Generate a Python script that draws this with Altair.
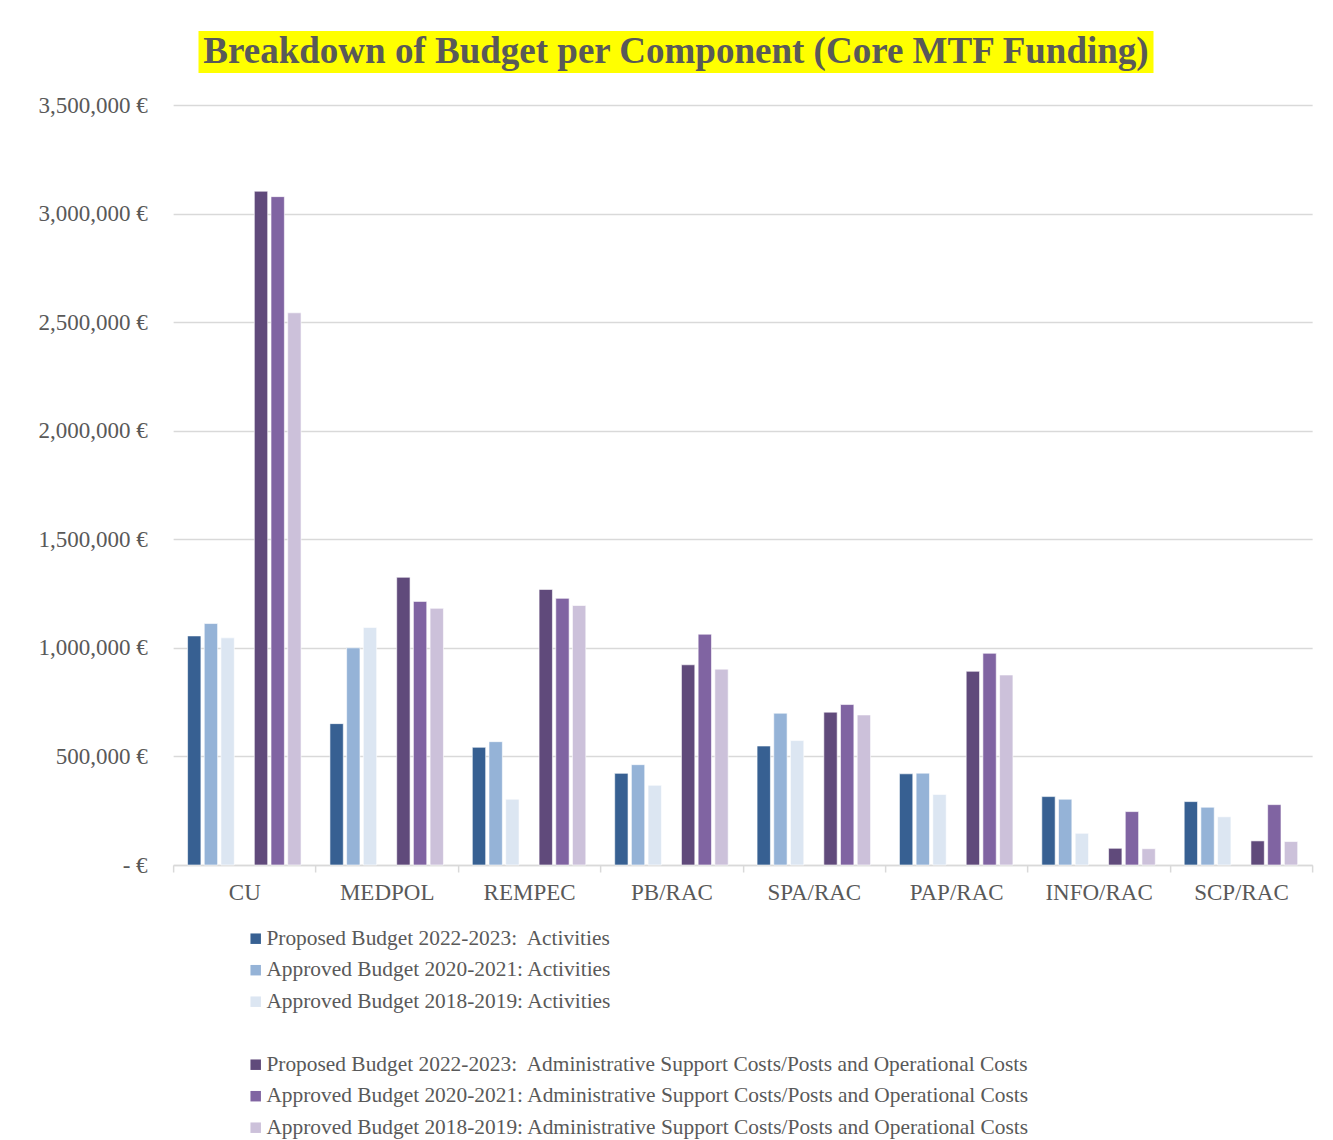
import altair as alt
import pandas as pd

title_text = "Breakdown of Budget per Component (Core MTF Funding)"

categories = ["CU", "MEDPOL", "REMPEC", "PB/RAC", "SPA/RAC", "PAP/RAC", "INFO/RAC", "SCP/RAC"]

series_names = [
    "Proposed Budget 2022-2023:\u00a0 Activities",
    "Approved Budget 2020-2021: Activities",
    "Approved Budget 2018-2019: Activities",
    "Proposed Budget 2022-2023:\u00a0 Administrative Support Costs/Posts and Operational Costs",
    "Approved Budget 2020-2021: Administrative Support Costs/Posts and Operational Costs",
    "Approved Budget 2018-2019: Administrative Support Costs/Posts and Operational Costs",
]
gap_name = " "

act_2022_2023 = [1055000, 651000, 542000, 422000, 548000, 420000, 315000, 292000]
act_2020_2021 = [1112000, 1000000, 568000, 462000, 699000, 423000, 303000, 266000]
act_2018_2019 = [1046000, 1094000, 303000, 367000, 573000, 325000, 146000, 222000]
adm_2022_2023 = [3103000, 1325000, 1269000, 922000, 704000, 892000, 77000, 111000]
adm_2020_2021 = [3078000, 1214000, 1228000, 1063000, 739000, 975000, 246000, 278000]
adm_2018_2019 = [2543000, 1182000, 1195000, 902000, 691000, 875000, 75000, 108000]

series_values = [act_2022_2023, act_2020_2021, act_2018_2019,
                 adm_2022_2023, adm_2020_2021, adm_2018_2019]

colors = ["#376092", "#95B3D7", "#DCE6F2", "transparent", "#604A7B", "#8064A2", "#CCC1DA"]
y_ticks = [0, 500000, 1000000, 1500000, 2000000, 2500000, 3000000, 3500000]

domain = series_names[:3] + [gap_name] + series_names[3:]

rows = []
for name, vals in zip(series_names, series_values):
    for cat, v in zip(categories, vals):
        rows.append({"component": cat, "series": name, "value": v})
df = pd.DataFrame(rows)

FONT = "Liberation Serif"
TXT = "#595959"
GRID = "#D9D9D9"

bars = alt.Chart(df).mark_bar(stroke="white", strokeWidth=0.6).encode(
    x=alt.X(
        "component:N", sort=categories,
        scale=alt.Scale(paddingInner=0, paddingOuter=0),
        axis=alt.Axis(title=None, labelAngle=0, tickBand="extent", grid=False,
                      domainColor=GRID, domainWidth=1.5, tickColor=GRID, tickWidth=1.5,
                      tickSize=7, labelPadding=9, labelFontSize=23, labelColor=TXT,
                      labelFont=FONT),
    ),
    xOffset=alt.XOffset("series:N", sort=domain,
                        scale=alt.Scale(domain=domain, paddingInner=0.2, paddingOuter=0.865)),
    y=alt.Y(
        "value:Q", scale=alt.Scale(domain=[0, 3500000]),
        axis=alt.Axis(title=None, values=y_ticks, domain=False, ticks=False,
                      gridColor=GRID, gridWidth=1.5, labelPadding=26,
                      labelFontSize=23, labelColor=TXT, labelFont=FONT,
                      labelExpr="datum.value == 0 ? '- €' : format(datum.value, ',') + ' €'"),
    ),
    color=alt.Color(
        "series:N", sort=domain,
        scale=alt.Scale(domain=domain, range=colors),
        legend=alt.Legend(title=None, orient="none", legendX=72, legendY=897,
                          direction="vertical", symbolType="square", symbolSize=110,
                          symbolStrokeWidth=0, labelFontSize=21.4, labelColor=TXT,
                          labelFont=FONT, rowPadding=8.5, labelLimit=1000,
                          labelOffset=0),
    ),
).properties(width=1139, height=760)

title_df = pd.DataFrame({"t": [title_text]})
title_chart = alt.Chart(title_df).mark_text(
    font=FONT, fontSize=37, fontWeight="bold", color=TXT, baseline="middle", align="center"
).encode(text="t:N").properties(
    width=955, height=42, view=alt.ViewBackground(fill="#FFFF00", strokeWidth=0)
)
spacer = alt.Chart(title_df).mark_point(opacity=0).properties(width=134, height=42)

title_row = alt.hconcat(title_chart, spacer, spacing=0)

chart = alt.vconcat(title_row, bars, spacing=21, center=True).properties(
    padding={"left": 29, "top": 23, "right": 5, "bottom": 0},
    background="white",
).configure_view(strokeWidth=0)

chart.save("out.html", embed_options={"renderer": "svg", "actions": False})
